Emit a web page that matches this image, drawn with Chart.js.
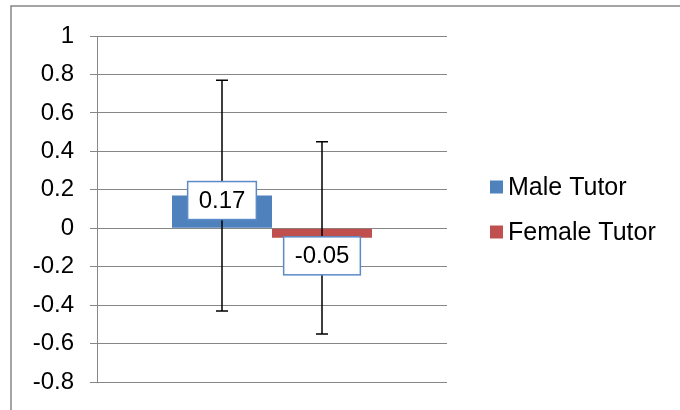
<!DOCTYPE html>
<html>
<head>
<meta charset="utf-8">
<script src="https://cdn.jsdelivr.net/npm/chart.js@4"></script>
<style>
  body { margin: 0; background: #fff; }
</style>
</head>
<body>
<canvas id="barChart" width="680" height="410"></canvas>
<script>
// Chart values
const categories = [""];
const seriesNames = ["Male Tutor", "Female Tutor"];
const seriesValues = [0.17, -0.05];
const errorValues = [0.6, 0.5];
const yTicks = [-0.8, -0.6, -0.4, -0.2, 0, 0.2, 0.4, 0.6, 0.8, 1];
const colors = ["#4F81BD", "#C0504D"];

const FONT = "Liberation Sans, Arial, sans-serif";

// outer frame of the chart object
const framePlugin = {
  id: "frame",
  beforeDraw(chart) {
    const ctx = chart.ctx;
    ctx.save();
    ctx.fillStyle = "#fff";
    ctx.fillRect(0, 0, chart.width, chart.height);
    ctx.strokeStyle = "#868686";
    ctx.lineWidth = 1.5;
    ctx.strokeRect(11, 6, chart.width + 20, chart.height + 20);
    ctx.restore();
  }
};

// error bars and boxed value labels
const barExtras = {
  id: "barExtras",
  afterDatasetsDraw(chart) {
    const ctx = chart.ctx;
    const y = chart.scales.y;
    ctx.save();
    // error bars first
    chart.data.datasets.forEach((ds, i) => {
      const bar = chart.getDatasetMeta(i).data[0];
      const v = ds.data[0];
      const err = errorValues[i];
      const yTop = y.getPixelForValue(v + err);
      const yBot = y.getPixelForValue(v - err);
      ctx.strokeStyle = "#000";
      ctx.lineWidth = 1.5;
      ctx.beginPath();
      ctx.moveTo(bar.x, yTop);
      ctx.lineTo(bar.x, yBot);
      ctx.moveTo(bar.x - 6, yTop);
      ctx.lineTo(bar.x + 6, yTop);
      ctx.moveTo(bar.x - 6, yBot);
      ctx.lineTo(bar.x + 6, yBot);
      ctx.stroke();
    });
    // labels
    ctx.font = "24px " + FONT;
    ctx.textAlign = "center";
    ctx.textBaseline = "middle";
    chart.data.datasets.forEach((ds, i) => {
      const bar = chart.getDatasetMeta(i).data[0];
      const v = ds.data[0];
      const txt = v.toFixed(2);
      const w = ctx.measureText(txt).width + 22;
      const h = 38;
      let cy;
      if (v >= 0) cy = bar.y + 5;
      else cy = bar.y - 1 + h / 2;
      ctx.fillStyle = "#fff";
      ctx.fillRect(bar.x - w / 2, cy - h / 2, w, h);
      ctx.strokeStyle = "#5B8BC9";
      ctx.lineWidth = 1.5;
      ctx.strokeRect(bar.x - w / 2, cy - h / 2, w, h);
      ctx.fillStyle = "#000";
      ctx.fillText(txt, bar.x, cy + 1);
    });
    ctx.restore();
  },
  afterDraw(chart) {
    // legend at the right
    const ctx = chart.ctx;
    ctx.save();
    ctx.font = "25px " + FONT;
    ctx.textBaseline = "middle";
    ctx.textAlign = "left";
    chart.data.datasets.forEach((ds, i) => {
      const cy = 187 + i * 45;
      ctx.fillStyle = ds.backgroundColor;
      ctx.fillRect(490, cy - 6.5, 13, 13);
      ctx.fillStyle = "#000";
      ctx.fillText(ds.label, 508, cy + 1);
    });
    ctx.restore();
  }
};

const config = {
  type: "bar",
  data: {
    labels: categories,
    datasets: seriesNames.map((name, i) => ({
      label: name,
      data: [seriesValues[i]],
      backgroundColor: colors[i],
      borderWidth: 0,
      barPercentage: 1,
      categoryPercentage: 200 / 350
    }))
  },
  options: {
    responsive: false,
    animation: false,
    layout: { padding: { top: 36, right: 233, bottom: 28, left: 0 } },
    plugins: {
      legend: { display: false },
      tooltip: { enabled: false }
    },
    scales: {
      x: { display: false },
      y: {
        min: -0.8,
        max: 1,
        afterBuildTicks(scale) {
          scale.ticks = yTicks.map((v) => ({ value: v }));
        },
        afterFit(scale) {
          scale.width = 97;
          scale.paddingTop = 0;
          scale.paddingBottom = 0;
        },
        ticks: {
          padding: 16,
          color: "#000",
          font: { family: FONT, size: 24 },
          callback: (v) => String(Math.round(v * 10) / 10)
        },
        grid: { color: "#868686", lineWidth: 1, tickLength: 7 },
        border: { color: "#868686", width: 1 }
      }
    }
  },
  plugins: [framePlugin, barExtras]
};

const ctx = document.getElementById("barChart").getContext("2d");
new Chart(ctx, config);
</script>
</body>
</html>
